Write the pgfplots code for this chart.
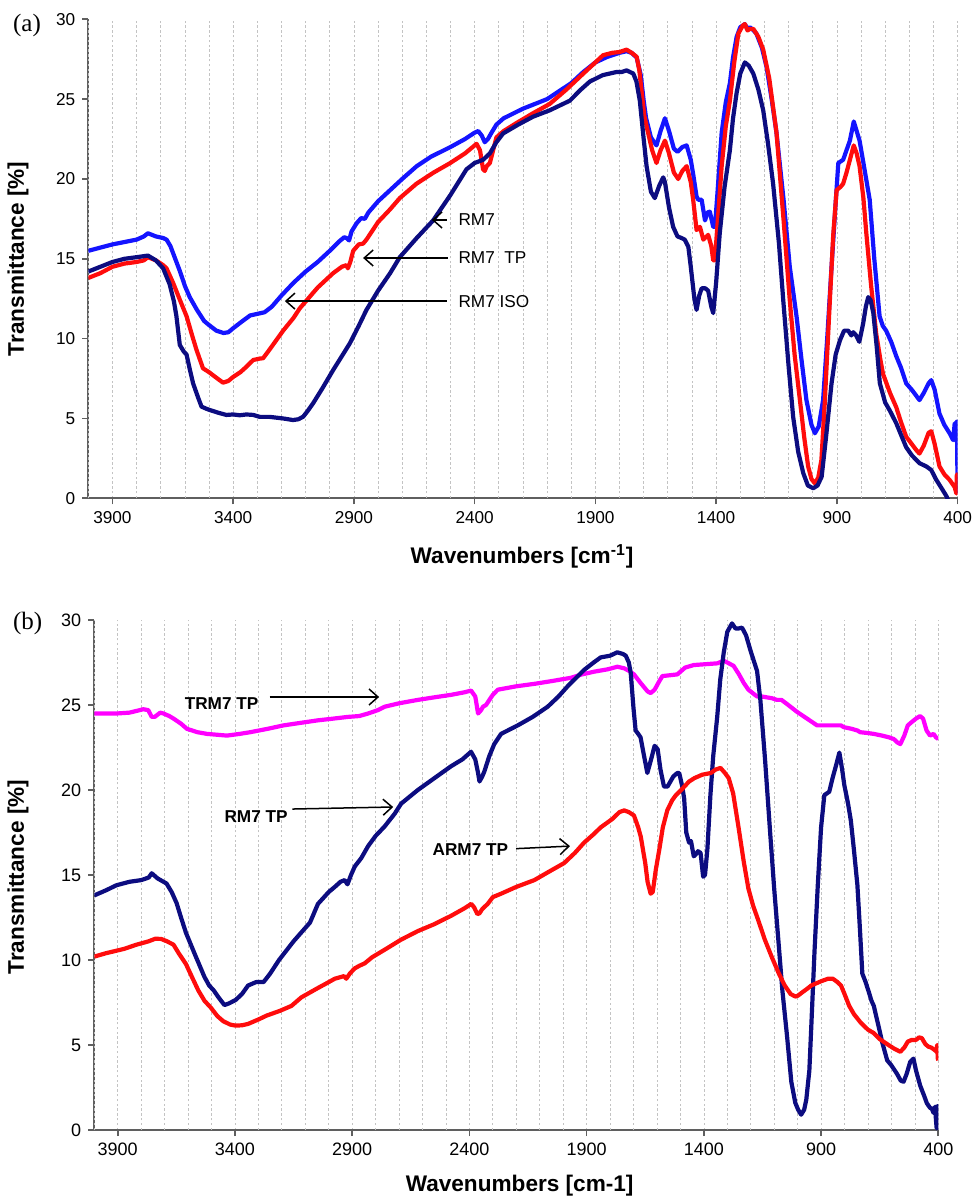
\documentclass[border=0pt]{standalone}
\usepackage{fontspec}
\setmainfont{Liberation Sans}
\newfontfamily\serifpanel{Liberation Serif}
\usepackage{pgfplots}
\pgfplotsset{compat=1.18}
\usetikzlibrary{arrows.meta}

\definecolor{cblue}{RGB}{20,20,255}
\definecolor{cred}{RGB}{255,12,12}
\definecolor{cnavy}{RGB}{12,12,128}
\definecolor{cmag}{RGB}{255,0,255}
\definecolor{gridgray}{RGB}{195,195,195}
\definecolor{axgray}{RGB}{95,95,95}

\tikzset{
  ann/.style={font=\fontsize{8.6}{10}\selectfont},
  annb/.style={font=\fontsize{8.6}{10}\selectfont\bfseries},
  arr/.style={-{Straight Barb[length=4.5pt,width=8pt]}, line width=0.75pt, black},
}

\pgfplotsset{
  ftir/.style={
    scale only axis,
    clip mode=individual,
    x dir=reverse,
    xmin=400, xmax=4000, ymin=0, ymax=30,
    xtick={400,900,1400,1900,2400,2900,3400,3900},
    minor xtick={},
    % dashed grid lines at every 100 wavenumbers
    extra x ticks={500,600,700,800,1000,1100,1200,1300,1500,1600,1700,1800,
                   2000,2100,2200,2300,2500,2600,2700,2800,3000,3100,3200,3300,
                   3500,3600,3700,3800,4000},
    extra x tick labels={},
    extra x tick style={xmajorgrids=true, major tick length=0pt},
    ytick={0,5,...,30},
    axis lines=left,
    axis line style={-, draw=axgray, line width=0.8pt},
    tick style={draw=axgray, line width=0.8pt},
    tick align=outside,
    major tick length=3pt,
    minor tick length=0pt,
    xmajorgrids,
    major grid style={dashed, dash pattern=on 1.2pt off 1.2pt, gridgray, line width=0.35pt},
    /pgf/number format/assume math mode=true,
    x tick label style={/pgf/number format/1000 sep={}},
    tick label style={font=\fontsize{8.6}{10}\selectfont},
    label style={font=\fontsize{11.3}{13}\selectfont\bfseries},
    every axis plot/.append style={line width=2.1pt, line join=round},
  },
}

\begin{document}
\begin{tikzpicture}
\path[use as bounding box] (0,0) rectangle (486pt,598.5pt);

% ---------------- panel (a) ----------------
\begin{axis}[ftir,
  at={(44.15pt,349.35pt)}, anchor=south west,
  width=434.65pt, height=239.5pt,
  xlabel={Wavenumbers [cm\textsuperscript{-1}]},
  ylabel={Transmittance [\%]},
  xlabel style={at={(axis description cs:0.499,-0.1205)}, anchor=center},
  ylabel style={at={(axis description cs:-0.0809,0.5)}, anchor=center},
]
% RM7 ISO
\addplot[cblue] coordinates {
(4000,15.5)(3950,15.7)(3900,15.9)(3850,16.05)(3800,16.2)(3770,16.4)(3753,16.6)(3720,16.4)
(3690,16.3)(3676,16.2)(3660,15.8)(3640,15.0)(3620,14.2)(3600,13.3)(3580,12.6)(3550,11.8)
(3520,11.1)(3500,10.85)(3470,10.5)(3440,10.35)(3420,10.4)(3400,10.65)(3370,11.0)(3330,11.45)
(3300,11.55)(3270,11.65)(3240,12.0)(3200,12.7)(3150,13.5)(3100,14.2)(3050,14.8)(3000,15.5)
(2960,16.1)(2940,16.35)(2930,16.3)(2920,16.15)(2910,16.7)(2890,17.2)(2870,17.55)(2855,17.5)
(2840,17.9)(2800,18.6)(2750,19.3)(2700,20.0)(2640,20.8)(2580,21.4)(2500,22.0)(2440,22.5)
(2400,22.9)(2385,23.0)(2370,22.7)(2358,22.3)(2345,22.5)(2330,22.9)(2310,23.4)(2280,23.8)
(2200,24.4)(2100,25.0)(2000,26.0)(1950,26.7)(1900,27.3)(1850,27.65)(1800,27.9)(1771,28.0)
(1750,27.9)(1729,27.6)(1712,26.5)(1700,24.9)(1690,23.8)(1670,22.6)(1647,22.1)(1630,23.0)
(1612,23.8)(1595,23.0)(1575,21.9)(1560,21.7)(1540,22.0)(1522,22.1)(1505,21.2)(1495,20.3)
(1481,18.9)(1474,18.7)(1460,18.7)(1446,17.4)(1436,17.9)(1426,17.95)(1412,17.0)(1405,17.0)
(1395,19.0)(1377,22.9)(1360,24.8)(1343,26.0)(1330,27.6)(1315,28.9)(1300,29.5)(1281,29.7)
(1270,29.4)(1260,29.5)(1245,29.3)(1233,29.1)(1210,28.2)(1191,27.0)(1170,25.0)(1150,22.9)
(1120,18.6)(1095,14.5)(1067,11.4)(1045,8.5)(1026,6.15)(1005,4.6)(991,4.07)(975,4.5)
(957,6.15)(940,10.0)(922,14.5)(905,18.5)(894,21.0)(874,21.2)(860,21.8)(846,22.4)(830,23.6)
(818,23.0)(806,22.4)(790,21.0)(764,18.7)(745,15.0)(723,11.4)(710,10.8)(696,10.5)(675,9.8)
(654,8.9)(635,8.2)(613,7.2)(590,6.8)(575,6.5)(558,6.15)(540,6.6)(520,7.2)(509,7.4)
(495,6.8)(475,5.3)(455,4.6)(433,4.07)(419,3.65)(415,4.2)(412,4.7)(408,3.6)(405,4.3)
(403,4.8)(401,2.0)(400,0.3)
};
% RM7 TP
\addplot[cred] coordinates {
(4000,13.8)(3950,14.1)(3900,14.5)(3850,14.7)(3800,14.8)(3770,14.9)(3753,15.1)(3720,14.9)
(3690,14.6)(3676,14.4)(3649,13.5)(3620,12.4)(3593,11.4)(3570,10.2)(3552,9.3)(3525,8.14)
(3500,7.9)(3483,7.7)(3442,7.24)(3420,7.35)(3400,7.6)(3370,7.9)(3345,8.24)(3317,8.66)
(3290,8.75)(3276,8.77)(3250,9.3)(3193,10.5)(3150,11.3)(3124,11.9)(3050,13.2)(2986,14.1)
(2950,14.5)(2931,14.6)(2925,14.4)(2915,14.8)(2903,15.5)(2880,15.9)(2862,15.95)(2848,16.2)
(2800,17.3)(2750,18.1)(2710,18.8)(2641,19.7)(2570,20.4)(2503,20.98)(2440,21.6)(2392,22.2)
(2378,21.8)(2365,20.6)(2358,20.5)(2350,20.8)(2337,21.0)(2320,22.0)(2310,22.6)(2280,23.0)
(2227,23.5)(2160,24.1)(2089,24.7)(2020,25.6)(1950,26.6)(1900,27.3)(1868,27.75)(1830,27.9)
(1800,27.95)(1771,28.1)(1750,27.9)(1729,27.65)(1718,26.8)(1708,25.4)(1698,24.0)(1688,23.3)
(1665,21.8)(1647,21.0)(1630,21.8)(1612,22.4)(1595,21.6)(1575,20.4)(1557,20.0)(1540,20.5)
(1522,20.8)(1505,19.8)(1495,18.7)(1481,16.8)(1467,17.0)(1453,16.2)(1433,16.5)(1420,15.8)
(1412,14.9)(1405,14.9)(1395,17.0)(1377,20.8)(1360,23.3)(1343,24.9)(1325,27.3)(1308,29.1)
(1290,29.6)(1281,29.7)(1270,29.3)(1260,29.4)(1246,29.4)(1225,28.9)(1205,28.1)(1180,26.3)
(1150,22.9)(1120,17.3)(1095,12.4)(1075,9.0)(1053,6.15)(1035,3.8)(1019,2.0)(1005,1.2)
(991,0.94)(977,1.3)(964,2.4)(950,6.0)(929,12.4)(915,16.5)(901,19.3)(885,19.5)(874,19.7)
(860,20.4)(846,21.2)(830,22.1)(818,21.6)(806,20.8)(790,18.8)(778,16.6)(758,13.3)(737,10.3)
(720,8.7)(709,7.8)(680,6.6)(654,5.7)(635,4.8)(613,3.86)(590,3.4)(570,3.0)(558,2.8)
(540,3.3)(520,4.1)(509,4.2)(495,3.4)(475,2.0)(455,1.5)(433,1.15)(412,0.7)(405,0.3)
(403,1.5)(400,0.9)
};
% RM7
\addplot[cnavy] coordinates {
(4000,14.2)(3950,14.5)(3900,14.8)(3850,15.0)(3800,15.1)(3753,15.2)(3720,14.9)(3690,14.4)
(3663,13.4)(3645,12.3)(3635,11.4)(3621,9.6)(3605,9.2)(3593,9.0)(3580,8.1)(3566,7.2)
(3545,6.3)(3531,5.74)(3510,5.6)(3497,5.53)(3460,5.35)(3428,5.22)(3400,5.25)(3373,5.2)
(3345,5.25)(3317,5.22)(3290,5.1)(3250,5.1)(3193,5.0)(3152,4.9)(3130,4.95)(3110,5.11)
(3090,5.5)(3069,5.95)(3030,6.9)(2986,8.03)(2950,8.9)(2917,9.7)(2880,10.8)(2848,11.8)
(2800,13.0)(2750,14.1)(2710,15.1)(2640,16.3)(2572,17.4)(2500,19.0)(2434,20.6)(2400,21.0)
(2365,21.2)(2337,21.6)(2310,22.3)(2282,22.85)(2220,23.4)(2158,23.9)(2089,24.3)(2006,24.9)
(1960,25.6)(1923,26.1)(1870,26.5)(1812,26.7)(1790,26.7)(1771,26.8)(1743,26.6)(1730,26.1)
(1716,24.9)(1700,22.5)(1688,20.8)(1670,19.2)(1654,18.8)(1635,19.6)(1619,20.1)(1612,19.8)
(1595,18.2)(1578,17.0)(1560,16.4)(1543,16.3)(1530,16.2)(1515,15.75)(1505,14.5)(1490,12.5)
(1481,11.8)(1470,12.7)(1460,13.15)(1445,13.15)(1433,13.0)(1420,12.0)(1412,11.6)(1400,13.5)
(1385,16.6)(1365,19.5)(1343,21.8)(1330,23.8)(1315,25.4)(1300,26.6)(1281,27.3)(1265,27.1)
(1246,26.6)(1225,25.6)(1205,24.3)(1185,22.2)(1164,19.7)(1140,16.0)(1122,12.4)(1100,8.3)
(1081,5.1)(1060,2.9)(1039,1.57)(1020,0.8)(998,0.63)(980,0.8)(963,1.35)(945,3.8)(922,7.2)
(905,9.0)(887,9.9)(870,10.5)(853,10.5)(840,10.2)(832,10.4)(820,10.2)(807,9.8)(800,10.3)
(791,10.96)(780,12.0)(770,12.6)(760,12.4)(749,11.6)(735,9.5)(722,7.2)(700,6.0)(681,5.5)
(654,4.7)(635,4.0)(613,3.2)(590,2.7)(558,2.2)(530,2.0)(509,1.77)(490,1.2)(461,0.5)
(445,0.1)(435,-0.3)
};
\draw[arr] (axis cs:2515,17.43) -- (axis cs:2577,17.43);
\node[ann, anchor=west] at (axis cs:2496,17.43) {RM7};
\draw[arr] (axis cs:2511,15.05) -- (axis cs:2862,15.05);
\node[ann, anchor=west] at (axis cs:2496,15.05) {RM7 \ TP};
\draw[arr] (axis cs:2515,12.35) -- (axis cs:3186,12.35);
\node[ann, anchor=west] at (axis cs:2496,12.35) {RM7 ISO};
\node[font=\serifpanel\fontsize{12.5}{14}\selectfont] at (axis description cs:-0.0705,0.988) {(a)};
\end{axis}

% ---------------- panel (b) ----------------
\begin{axis}[ftir,
  at={(47.15pt,33.5pt)}, anchor=south west,
  width=422pt, height=255pt,
  xlabel={Wavenumbers [cm-1]},
  ylabel={Transmittance [\%]},
  xlabel style={at={(axis description cs:0.504,-0.11)}, anchor=center},
  ylabel style={at={(axis description cs:-0.0904,0.496)}, anchor=center},
  tick label style={font=\fontsize{9}{10}\selectfont},
]
% TRM7 TP
\addplot[cmag] coordinates {
(4000,24.5)(3905,24.5)(3850,24.55)(3791,24.75)(3770,24.7)(3755,24.3)(3742,24.3)(3719,24.55)
(3705,24.5)(3680,24.35)(3662,24.2)(3630,23.9)(3605,23.6)(3560,23.4)(3519,23.3)(3434,23.2)
(3380,23.3)(3335,23.4)(3260,23.6)(3193,23.8)(3120,23.95)(3045,24.1)(2980,24.2)(2918,24.3)
(2870,24.35)(2832,24.5)(2790,24.7)(2761,24.9)(2700,25.1)(2620,25.3)(2550,25.45)(2477,25.6)
(2420,25.75)(2393,25.85)(2375,25.5)(2363,24.5)(2350,24.7)(2342,24.9)(2329,25.0)(2310,25.4)
(2300,25.6)(2279,25.9)(2200,26.1)(2120,26.25)(2052,26.4)(1967,26.6)(1920,26.8)(1868,26.96)
(1810,27.1)(1769,27.25)(1740,27.16)(1718,27.0)(1698,26.8)(1670,26.3)(1640,25.8)(1627,25.7)
(1610,25.9)(1590,26.4)(1577,26.7)(1545,26.75)(1513,26.8)(1480,27.2)(1443,27.35)(1393,27.4)
(1343,27.45)(1315,27.6)(1300,27.5)(1273,27.3)(1250,26.8)(1230,26.3)(1210,25.9)(1173,25.5)
(1153,25.5)(1110,25.4)(1088,25.3)(1069,25.3)(1040,25.0)(1003,24.6)(960,24.2)(917,23.8)
(870,23.8)(815,23.8)(804,23.7)(770,23.6)(745,23.5)(733,23.4)(700,23.35)(675,23.3)
(640,23.2)(611,23.1)(590,23.0)(575,22.8)(562,22.7)(545,23.2)(530,23.8)(513,24.0)
(495,24.2)(478,24.35)(465,24.2)(450,23.5)(435,23.2)(420,23.3)(410,23.1)(400,23.0)
};
% RM7 TP
\addplot[cnavy] coordinates {
(4000,13.8)(3950,14.1)(3905,14.4)(3850,14.6)(3800,14.7)(3768,14.85)(3755,15.1)(3730,14.8)
(3692,14.5)(3670,14.0)(3649,13.35)(3630,12.5)(3609,11.6)(3570,10.3)(3530,9.0)(3510,8.5)
(3490,8.2)(3470,7.8)(3445,7.35)(3425,7.45)(3397,7.65)(3370,8.0)(3344,8.5)(3310,8.7)
(3278,8.7)(3250,9.2)(3212,10.0)(3150,11.1)(3080,12.2)(3046,13.3)(3000,14.0)(2974,14.3)
(2950,14.6)(2932,14.7)(2920,14.45)(2905,15.0)(2889,15.5)(2861,16.0)(2832,16.7)(2800,17.3)
(2762,17.85)(2719,18.6)(2691,19.2)(2620,20.0)(2549,20.7)(2478,21.4)(2430,21.8)(2393,22.25)
(2375,21.8)(2363,21.0)(2357,20.5)(2345,20.8)(2336,21.1)(2315,22.0)(2294,22.7)(2265,23.3)
(2194,23.8)(2130,24.3)(2066,24.9)(2020,25.5)(1981,26.1)(1911,27.06)(1870,27.5)(1840,27.8)
(1800,27.9)(1769,28.1)(1745,28.0)(1733,27.9)(1720,27.5)(1712,26.9)(1700,24.8)(1691,23.5)
(1680,23.3)(1670,23.1)(1655,22.0)(1641,21.0)(1625,21.8)(1610,22.6)(1597,22.4)(1585,21.2)
(1570,20.2)(1555,20.2)(1530,20.8)(1513,21.0)(1505,21.0)(1492,20.2)(1484,19.5)(1475,17.5)
(1463,16.9)(1455,17.0)(1443,16.1)(1435,16.2)(1425,16.4)(1414,16.3)(1403,14.9)(1395,15.0)
(1385,16.5)(1372,19.7)(1360,22.0)(1343,24.3)(1330,26.5)(1315,28.1)(1300,29.3)(1280,29.8)
(1265,29.5)(1252,29.5)(1237,29.55)(1220,29.1)(1201,28.2)(1173,27.0)(1159,25.3)(1139,21.8)
(1117,17.45)(1100,14.2)(1083,11.3)(1065,8.2)(1045,5.5)(1027,2.84)(1010,1.6)(998,1.2)
(985,0.9)(972,1.2)(963,1.79)(950,3.5)(942,6.0)(928,10.5)(914,14.4)(900,17.8)(886,19.7)
(875,19.8)(865,19.9)(851,20.7)(835,21.5)(822,22.2)(810,21.2)(801,20.3)(785,19.2)(773,18.2)
(760,16.5)(745,14.4)(735,12.0)(724,9.2)(710,8.7)(696,8.1)(685,7.6)(675,7.3)(665,6.7)
(653,6.0)(640,5.2)(618,4.1)(600,3.8)(576,3.3)(560,2.9)(548,2.84)(535,3.3)(520,4.0)
(506,4.2)(495,3.5)(477,2.6)(460,2.0)(449,1.58)(435,1.3)(428,1.26)(420,1.0)(414,1.37)
(410,0.6)(407,0.1)(403,1.4)(401,0.2)(400,0.0)
};
% ARM7 TP
\addplot[cred] coordinates {
(4000,10.2)(3950,10.4)(3874,10.65)(3820,10.9)(3768,11.1)(3740,11.25)(3715,11.24)(3690,11.1)
(3662,10.9)(3640,10.4)(3609,9.76)(3580,8.9)(3556,8.2)(3530,7.6)(3503,7.2)(3475,6.7)
(3450,6.4)(3420,6.2)(3397,6.14)(3370,6.16)(3344,6.24)(3300,6.5)(3265,6.73)(3210,7.0)
(3159,7.3)(3117,7.8)(3053,8.3)(3000,8.7)(2974,8.9)(2948,9.0)(2935,9.05)(2925,8.9)
(2910,9.2)(2890,9.5)(2868,9.67)(2847,9.8)(2815,10.16)(2750,10.7)(2691,11.2)(2620,11.7)
(2551,12.1)(2478,12.6)(2420,13.05)(2392,13.3)(2380,13.1)(2366,12.7)(2357,12.75)(2345,13.0)
(2322,13.3)(2300,13.7)(2265,13.9)(2200,14.3)(2123,14.7)(2060,15.2)(1996,15.7)(1950,16.3)
(1911,16.9)(1870,17.4)(1840,17.8)(1790,18.3)(1760,18.7)(1740,18.8)(1720,18.7)(1698,18.5)
(1680,17.8)(1669,17.25)(1650,15.7)(1640,14.6)(1627,13.9)(1618,14.0)(1605,15.3)(1590,16.5)
(1575,17.8)(1556,18.8)(1535,19.4)(1519,19.7)(1490,20.1)(1463,20.5)(1440,20.7)(1407,20.9)
(1370,21.0)(1350,21.2)(1329,21.3)(1310,21.0)(1294,20.7)(1275,19.8)(1252,17.8)(1230,15.8)
(1210,14.2)(1190,13.2)(1167,12.3)(1140,11.2)(1111,10.2)(1080,9.2)(1055,8.5)(1030,8.0)
(1010,7.85)(999,7.9)(980,8.1)(960,8.3)(942,8.5)(900,8.75)(870,8.9)(850,8.9)(830,8.7)
(815,8.5)(800,8.0)(780,7.3)(759,6.8)(730,6.3)(700,5.9)(675,5.7)(650,5.35)(618,5.05)
(590,4.8)(562,4.6)(545,4.85)(530,5.2)(513,5.3)(495,5.3)(482,5.45)(470,5.4)(455,5.05)
(442,4.9)(430,4.85)(415,4.7)(407,4.6)(405,5.0)(402,4.2)(400,4.1)
};
\node[annb] at (axis cs:3457,25.06) {TRM7 TP};
\draw[arr] (axis cs:3252,25.47) -- (axis cs:2785,25.47);
\node[annb] at (axis cs:3310,18.41) {RM7 TP};
\draw[arr] (axis cs:3155,18.88) -- (axis cs:2725,19.0);
\node[annb] at (axis cs:2396,16.47) {ARM7 TP};
\draw[arr] (axis cs:2201,16.55) -- (axis cs:1971,16.7);
\node[font=\serifpanel\fontsize{12.5}{14}\selectfont] at (axis description cs:-0.0789,0.994) {(b)};
\end{axis}
\end{tikzpicture}
\end{document}
